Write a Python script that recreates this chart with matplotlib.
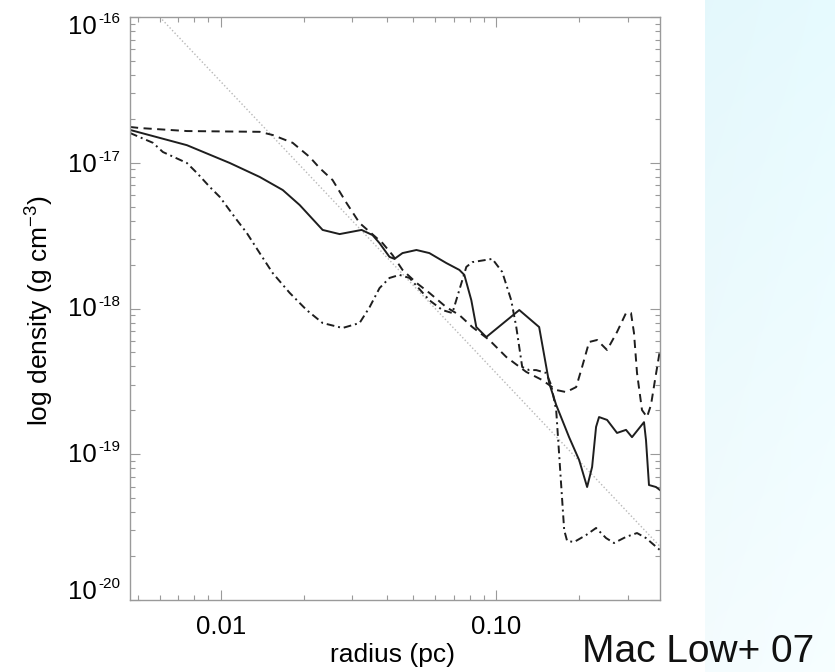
import numpy as np
import matplotlib
matplotlib.use("Agg")
import matplotlib.pyplot as plt

plt.rcParams['font.family'] = ['Liberation Sans', 'DejaVu Sans']
plt.rcParams['mathtext.fontset'] = 'custom'
plt.rcParams['mathtext.rm'] = 'Liberation Sans'
plt.rcParams['mathtext.it'] = 'Liberation Sans:italic'

# ---------------- data ----------------
solid_r = [0.00468, 0.00753, 0.01078, 0.01384, 0.01678, 0.01933, 0.02342, 0.02699,
           0.03243, 0.03554, 0.03768, 0.04095, 0.04269, 0.04566, 0.05130, 0.05716,
           0.06588, 0.07343, 0.07657, 0.08117, 0.08462, 0.09199, 0.1212, 0.1431,
           0.1556, 0.1650, 0.1838, 0.1999, 0.2137, 0.2228, 0.2303, 0.2361, 0.2525,
           0.2744, 0.2958, 0.3110, 0.3438, 0.3496, 0.3584, 0.3800, 0.3929]
solid_rho = [1.68e-17, 1.32e-17, 9.96e-18, 7.99e-18, 6.50e-18, 5.13e-18, 3.46e-18, 3.24e-18,
             3.46e-18, 3.19e-18, 2.81e-18, 2.26e-18, 2.19e-18, 2.40e-18, 2.52e-18, 2.40e-18,
             2.05e-18, 1.84e-18, 1.70e-18, 1.14e-18, 7.46e-19, 6.37e-19, 9.76e-19, 7.46e-19,
             3.08e-19, 2.18e-19, 1.31e-19, 9.13e-20, 5.96e-20, 8.18e-20, 1.54e-19, 1.80e-19,
             1.72e-19, 1.40e-19, 1.47e-19, 1.31e-19, 1.66e-19, 1.25e-19, 6.15e-20, 5.96e-20,
             5.68e-20]

dashed_r = [0.00468, 0.00509, 0.00753, 0.01384, 0.01543, 0.01823, 0.02102, 0.02284,
            0.02545, 0.02861, 0.03189, 0.03864, 0.04199, 0.04566, 0.05130, 0.05716,
            0.06588, 0.07343, 0.08185, 0.09432, 0.1087, 0.1285, 0.1468, 0.1650, 0.1793,
            0.1950, 0.2049, 0.2173, 0.2322, 0.2525, 0.2744, 0.2958, 0.3084, 0.3162,
            0.3243, 0.3381, 0.3525, 0.3645, 0.3769, 0.3929]
dashed_rho = [1.76e-17, 1.73e-17, 1.65e-17, 1.63e-17, 1.55e-17, 1.37e-17, 1.095e-17, 9.20e-18,
              7.61e-18, 5.29e-18, 3.86e-18, 2.81e-18, 2.33e-18, 1.84e-18, 1.50e-18, 1.28e-18,
              1.02e-18, 9.02e-19, 7.46e-19, 6.08e-19, 4.65e-19, 3.67e-19, 3.23e-19, 2.76e-19,
              2.67e-19, 2.89e-19, 3.97e-19, 5.89e-19, 6.08e-19, 5.19e-19, 6.90e-19, 9.31e-19,
              9.31e-19, 6.79e-19, 3.61e-19, 2.01e-19, 1.80e-19, 2.18e-19, 3.23e-19, 5.19e-19]

dashdot_r = [0.00468, 0.00567, 0.00616, 0.00753, 0.00819, 0.00912, 0.00992, 0.01143,
             0.01242, 0.01384, 0.01543, 0.01778, 0.02049, 0.02342, 0.02767, 0.03189,
             0.03467, 0.03768, 0.04095, 0.04452, 0.04841, 0.05716, 0.06371, 0.06928,
             0.07343, 0.07786, 0.08185, 0.09672, 0.1051, 0.1133, 0.1182, 0.1242, 0.1317,
             0.1396, 0.1518, 0.1582, 0.1650, 0.1706, 0.1764, 0.1808, 0.1917, 0.2119,
             0.2303, 0.2504, 0.2676, 0.2958, 0.3243, 0.3496, 0.3929]
dashdot_rho = [1.60e-17, 1.37e-17, 1.185e-17, 9.96e-18, 8.51e-18, 6.82e-18, 5.82e-18, 4.05e-18,
               3.30e-18, 2.40e-18, 1.75e-18, 1.28e-18, 9.76e-19, 7.95e-19, 7.35e-19, 7.95e-19,
               1.02e-18, 1.38e-18, 1.62e-18, 1.70e-18, 1.62e-18, 1.14e-18, 9.76e-19, 9.31e-19,
               1.34e-18, 1.93e-18, 2.08e-18, 2.19e-18, 1.78e-18, 1.14e-18, 7.46e-19, 3.97e-19,
               3.78e-19, 3.78e-19, 3.61e-19, 2.99e-19, 2.01e-19, 7.80e-20, 3.02e-20, 2.54e-20,
               2.50e-20, 2.79e-20, 3.12e-20, 2.66e-20, 2.46e-20, 2.71e-20, 2.88e-20, 2.66e-20,
               2.20e-20]

dotted_r = [0.0060, 0.393]
dotted_rho = [1.0e-16, 2.33e-20]

x_tick_values = [0.01, 0.1]
x_tick_labels = ["0.01", "0.10"]
y_tick_exponents = [-16, -17, -18, -19, -20]

x_label = "radius (pc)"
y_label = r"log density (g cm$^{-3}$)"
credit = "Mac Low+ 07"

# ---------------- figure ----------------
W, H = 835, 672
fig = plt.figure(figsize=(W / 100, H / 100), dpi=100)
fig.patch.set_facecolor("white")

# light blue gradient panel at right
bg = fig.add_axes([0, 0, 1, 1], zorder=-10)
bg.set_xlim(0, W)
bg.set_ylim(H, 0)
bg.axis("off")
ny, nx = 200, 40
yy = np.linspace(0, 1, ny)[:, None]
xx = np.linspace(0, 1, nx)[None, :]
top = np.array([0.894, 0.972, 0.988])
bot = np.array([0.957, 0.988, 0.996])
grad = top[None, None, :] * (1 - yy[..., None]) + bot[None, None, :] * yy[..., None]
grad = grad + 0.01 * xx[..., None]
grad = np.clip(grad, 0, 1)
bg.imshow(grad, extent=(705, W, H, 0), aspect="auto", interpolation="bilinear")

ax = fig.add_axes([130 / W, 1 - 600 / H, 530 / W, 583 / H])
ax.set_xscale("log")
ax.set_yscale("log")

lc = "#1e1e1e"
ax.plot(dotted_r, dotted_rho, color="#b8b8b8", lw=1.0, ls=(0, (1, 1.6)))
ax.plot(solid_r, solid_rho, color=lc, lw=1.4, ls="-", solid_joinstyle="round")
ax.plot(dashed_r, dashed_rho, color=lc, lw=1.4, ls=(0, (4.2, 2.8)), dash_joinstyle="round")
ax.plot(dashdot_r, dashdot_rho, color=lc, lw=1.4, ls=(0, (4.0, 2.0, 1.0, 2.0)), dash_joinstyle="round")

ax.set_xlim(0.00468, 0.393)
ax.set_ylim(1e-20, 1e-16)

frame_c = "#9a9a9a"
for s in ax.spines.values():
    s.set_color(frame_c)
    s.set_linewidth(1.0)
ax.tick_params(which="both", direction="in", top=True, right=True, color=frame_c, width=0.8)
ax.tick_params(which="major", length=7.5)
ax.tick_params(which="minor", length=3.8)

ax.set_xticks(x_tick_values)
ax.set_xticklabels(x_tick_labels, fontsize=18.5)
ax.tick_params(axis="x", which="major", pad=11)
ax.set_yticks([10.0 ** e for e in y_tick_exponents])
ax.set_yticklabels([""] * len(y_tick_exponents))

# y tick labels: "10" + small raised exponent (as in the original)
dy_base = {-16: -10, -17: -2, -18: -1, -19: -1, -20: 8}
for e in y_tick_exponents:
    d = dy_base.get(e, 0)
    ax.annotate("10", xy=(0, 10.0 ** e), xycoords=("axes fraction", "data"),
                xytext=(-33, d), textcoords="offset pixels",
                ha="right", va="center", fontsize=18.5)
    ax.annotate(str(e), xy=(0, 10.0 ** e), xycoords=("axes fraction", "data"),
                xytext=(-32, d + 8), textcoords="offset pixels",
                ha="left", va="center", fontsize=11)

fig.text(393 / W, 1 - 655 / H, x_label, ha="center", va="center", fontsize=19)
fig.text(40 / W, 1 - 311 / H, y_label, ha="center", va="center", rotation=90, fontsize=19)
fig.text(582 / W, 1 - 662 / H, credit, ha="left", va="baseline", fontsize=28, color="#111111")

fig.savefig("out.png", dpi=100)
